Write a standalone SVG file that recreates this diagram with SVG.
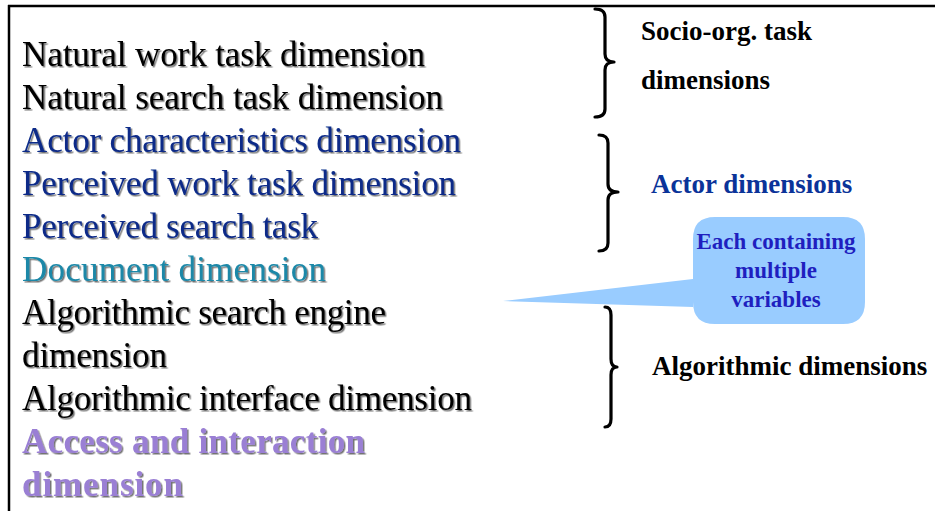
<svg xmlns="http://www.w3.org/2000/svg" width="935" height="511" viewBox="0 0 935 511">
<defs>
<filter id="sh" x="-5%" y="-20%" width="110%" height="150%">
<feDropShadow dx="1.5" dy="1.5" stdDeviation="0.4" flood-color="#000" flood-opacity="0.55"/>
</filter>
<style>
text{font-family:'Liberation Serif','Times New Roman','DejaVu Serif',serif}
.main{font-size:35px;filter:url(#sh)}
.lbl{font-size:27px;font-weight:bold}
.call{font-size:23px;font-weight:bold;fill:#1f1fbf;text-anchor:middle}
.brace{fill:none;stroke:#000;stroke-width:3.2;stroke-linecap:round;stroke-linejoin:round}
.blk{fill:#000}
.blu{fill:#0a2a88}
.doc{fill:#1b88a8}
.pur{fill:#9a7fd4;font-weight:bold}
</style>
</defs>
<rect width="935" height="511" fill="#fff"/>
<g id="frame">
<line x1="8" y1="6" x2="935" y2="6" stroke="#000" stroke-width="2.5"/>
<line x1="9" y1="5" x2="9" y2="511" stroke="#000" stroke-width="2.5"/>
</g>
<g id="dimensions-list">
<text class="main blk" x="22" y="66" textLength="403">Natural work task dimension</text>
<text class="main blk" x="22" y="109" textLength="421">Natural search task dimension</text>
<text class="main blu" x="22" y="152" textLength="439">Actor characteristics dimension</text>
<text class="main blu" x="22" y="195" textLength="434">Perceived work task dimension</text>
<text class="main blu" x="22" y="238" textLength="296">Perceived search task</text>
<text class="main doc" x="22" y="281" textLength="304">Document dimension</text>
<text class="main blk" x="22" y="324" textLength="364">Algorithmic search engine</text>
<text class="main blk" x="22" y="367" textLength="145">dimension</text>
<text class="main blk" x="22" y="410" textLength="450">Algorithmic interface dimension</text>
<text class="main pur" x="22" y="453" textLength="343">Access and interaction</text>
<text class="main pur" x="22" y="496" textLength="161">dimension</text>
</g>
<g id="connectors">
<path class="brace" d="M595,9 Q605,9 605,17 L605,54 Q605,62 614,62 Q605,62 605,70 L605,109 Q605,117 595,117"/>
<path class="brace" d="M599,135 Q608,135 608,143 L608,184 Q608,192 618,192 Q608,192 608,200 L608,243 Q608,251 599,251"/>
<path class="brace" d="M605,307 Q611,307 611,315 L611,359 Q611,367 617,367 Q611,367 611,375 L611,419 Q611,427 605,427"/>
</g>
<g id="socio-org">
<text class="lbl blk" x="641" y="40">Socio-org. task</text>
<text class="lbl blk" x="641" y="89">dimensions</text>
</g>
<g id="actor">
<text class="lbl" x="651" y="193" fill="#0a3399">Actor dimensions</text>
</g>
<g id="algorithmic">
<text class="lbl blk" x="652" y="375">Algorithmic dimensions</text>
</g>
<g id="callout">
<path d="M715,217 H843 Q865,217 865,239 V302 Q865,324 843,324 H715 Q693,324 693,302 V307 L503,301 L693,279 V239 Q693,217 715,217 Z" fill="#99ccff"/>
<text class="call" x="776" y="249">Each containing</text>
<text class="call" x="776" y="278">multiple</text>
<text class="call" x="776" y="307">variables</text>
</g>
</svg>
